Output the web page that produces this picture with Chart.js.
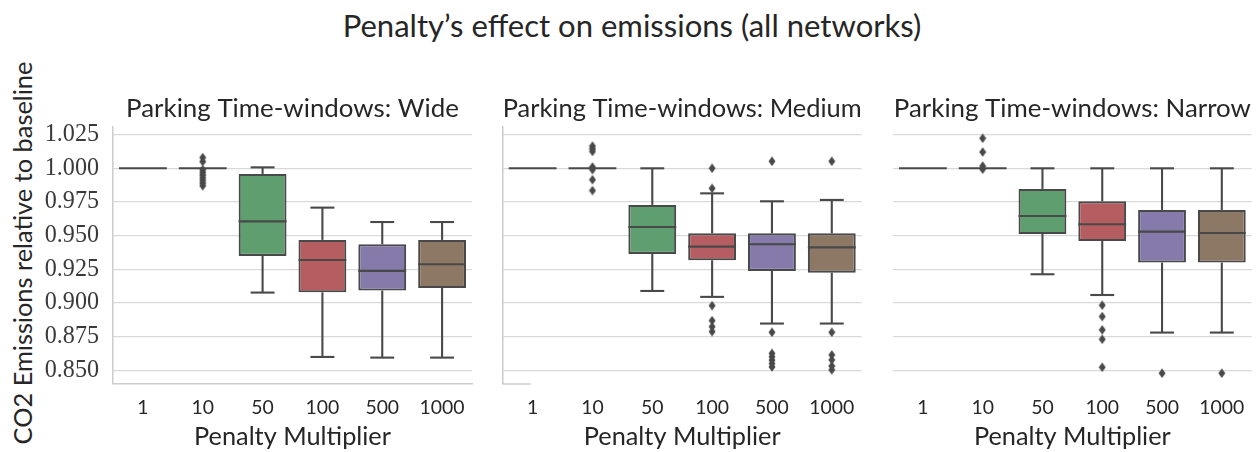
<!DOCTYPE html>
<html><head><meta charset="utf-8">
<script src="https://cdn.jsdelivr.net/npm/chart.js@4.4.0/dist/chart.umd.min.js"></script>
<style>
html,body{margin:0;padding:0;background:#fff;width:1258px;height:452px;overflow:hidden;}
#wrap{position:relative;width:1258px;height:452px;}
canvas{position:absolute;}
.lbl{position:absolute;white-space:nowrap;color:#262626;font-family:Lato,"Open Sans",sans-serif;line-height:1;}
#sup{left:632px;top:26px;transform:translate(-50%,-50%);}
#ylab{left:23px;top:253px;transform:translate(-50%,-50%) rotate(-90deg);}
</style></head>
<body><div id="wrap">
<div id="sup" class="lbl">Penalty’s effect on emissions (all networks)</div>
<div id="ylab" class="lbl">CO2 Emissions relative to baseline</div>
<canvas id="c1"></canvas><canvas id="c2"></canvas><canvas id="c3"></canvas>
</div>
<script>
// ---------------- data ----------------
const categories = ['1','10','50','100','500','1000'];
const yTickValues = [0.850,0.875,0.900,0.925,0.950,0.975,1.000,1.025];
const panelTitles = ['Parking Time-windows: Wide','Parking Time-windows: Medium','Parking Time-windows: Narrow'];

const wideLow    = [1.000, 1.000, 0.9077, 0.8599, 0.8594, 0.8594];
const wideQ1     = [1.000, 1.000, 0.9349, 0.9079, 0.9092, 0.9111];
const wideMedian = [1.000, 1.000, 0.9606, 0.9319, 0.9238, 0.9287];
const wideQ3     = [1.000, 1.000, 0.9958, 0.9468, 0.9436, 0.9468];
const wideHigh   = [1.000, 1.000, 1.0007, 0.9708, 0.9601, 0.9601];
const wideOutliers = [[], [1.008,1.005,0.999,0.997,0.995,0.993,0.991,0.989,0.987], [], [], [], []];

const mediumLow    = [1.000, 1.000, 0.9089, 0.9045, 0.8847, 0.8847];
const mediumQ1     = [1.000, 1.000, 0.9364, 0.9317, 0.9238, 0.9225];
const mediumMedian = [1.000, 1.000, 0.9564, 0.9418, 0.9436, 0.9413];
const mediumQ3     = [1.000, 1.000, 0.9728, 0.9517, 0.9517, 0.9517];
const mediumHigh   = [1.000, 1.000, 1.000, 0.9814, 0.9755, 0.9765];
const mediumOutliers = [[], [1.0165,1.0145,1.0125,1.001,0.999,0.9915,0.9835], [], [1.000,0.9851,0.898,0.8869,0.8824,0.8787],
  [1.0052,0.8782,0.8625,0.860,0.8575,0.855,0.8525], [1.0052,0.8782,0.8614,0.8577,0.8532,0.8503]];

const narrowLow    = [1.000, 1.000, 0.9213, 0.9059, 0.8780, 0.8780];
const narrowQ1     = [1.000, 1.000, 0.9512, 0.9460, 0.9300, 0.9300];
const narrowMedian = [1.000, 1.000, 0.9646, 0.9584, 0.9530, 0.9520];
const narrowQ3     = [1.000, 1.000, 0.9847, 0.9755, 0.9691, 0.9691];
const narrowHigh   = [1.000, 1.000, 1.000, 1.000, 1.000, 1.000];
const narrowOutliers = [[], [1.0223,1.0121,1.0017,0.9993], [], [0.8983,0.8899,0.8800,0.8730,0.8522], [0.8478], [0.8478]];

// ---------------- style ----------------
const boxColors = ['#5975a4','#cc8963','#5f9e6e','#b55d60','#857aaa','#8d7866'];
const lineGray = '#494949';
const textColor = '#262626';
const gridColor = '#d9d9d9';
const spineColor = '#cccccc';
const SANS = 'Lato';
const SERIF = '"Liberation Serif"';
const Y_MIN = 0.8398, Y_MAX = 1.0309;
const LW = 2.1;

function fitSize(text, family, target){
  const c = document.createElement('canvas').getContext('2d');
  c.font = '100px ' + family;
  return 100 * target / c.measureText(text).width;
}

function diamond(){
  const c = document.createElement('canvas');
  c.width = 8; c.height = 10;
  const g = c.getContext('2d');
  g.fillStyle = lineGray;
  g.beginPath(); g.moveTo(4,0.3); g.lineTo(7.5,5); g.lineTo(4,9.7); g.lineTo(0.5,5); g.closePath(); g.fill();
  return c;
}

const boxPlugin = {
  id:'boxWhiskers',
  afterDatasetDraw(chart, args){
    if (args.index !== 0) return;
    const st = chart.canvas.$stats;
    if (!st) return;
    const ys = chart.scales.y, ctx = chart.ctx;
    const meta = chart.getDatasetMeta(0);
    ctx.save();
    ctx.strokeStyle = lineGray; ctx.lineWidth = LW; ctx.lineCap = 'butt';
    const line = (x1,y1,x2,y2)=>{ctx.beginPath();ctx.moveTo(x1,y1);ctx.lineTo(x2,y2);ctx.stroke();};
    meta.data.forEach((bar,i)=>{
      const x = bar.x, w = bar.width;
      const yLo = ys.getPixelForValue(st.low[i]), yQ1 = ys.getPixelForValue(st.q1[i]);
      const yMed = ys.getPixelForValue(st.med[i]), yQ3 = ys.getPixelForValue(st.q3[i]);
      const yHi = ys.getPixelForValue(st.high[i]);
      if (yHi < yQ3 - 0.5){ line(x,yQ3,x,yHi); line(x-w/4,yHi,x+w/4,yHi); }
      if (yLo > yQ1 + 0.5){ line(x,yQ1,x,yLo); line(x-w/4,yLo,x+w/4,yLo); }
      line(x-w/2,yMed,x+w/2,yMed);
    });
    if (chart.canvas.$shortSpine){
      const a = chart.chartArea;
      ctx.strokeStyle = spineColor; ctx.lineWidth = 1.5;
      line(a.left, a.bottom, a.left + 28, a.bottom);
    }
    ctx.restore();
  }
};

function build(){
  const supEl = document.getElementById('sup');
  supEl.style.fontSize = fitSize(supEl.textContent, SANS, 579) + 'px';
  const yl = document.getElementById('ylab');
  yl.style.fontSize = fitSize(yl.textContent, SANS, 383) + 'px';

  const titleSize = fitSize(panelTitles[0], SANS, 333);
  const xTitleSize = fitSize('Penalty Multiplier', SANS, 197);
  const xTickSize = fitSize('1000', SANS, 45);
  const yTickSize = fitSize('1.025', SERIF, 54.3);
  const marker = diamond();

  const panels = [
    {id:'c1', left:0,   width:480, yWidth:113,  padR:8,   yTicks:true,  yBorder:true,  xBorder:true,  short:false,
     st:{low:wideLow,q1:wideQ1,med:wideMedian,q3:wideQ3,high:wideHigh}, out:wideOutliers},
    {id:'c2', left:480, width:390, yWidth:22.7, padR:8.3, yTicks:false, yBorder:true,  xBorder:false, short:true,
     st:{low:mediumLow,q1:mediumQ1,med:mediumMedian,q3:mediumQ3,high:mediumHigh}, out:mediumOutliers},
    {id:'c3', left:870, width:388, yWidth:23,   padR:6.3, yTicks:false, yBorder:false, xBorder:false, short:false,
     st:{low:narrowLow,q1:narrowQ1,med:narrowMedian,q3:narrowQ3,high:narrowHigh}, out:narrowOutliers}
  ];
  const TOP = 80, H = 372;
  const topAxisH = 46.7, bottomAxisH = 68;

  panels.forEach((p, k)=>{
    const cv = document.getElementById(p.id);
    cv.width = p.width; cv.height = H;
    cv.style.left = p.left + 'px'; cv.style.top = TOP + 'px';
    cv.style.width = p.width + 'px'; cv.style.height = H + 'px';
    cv.$stats = p.st;
    cv.$shortSpine = p.short;

    const boxData = categories.map((c,i)=>[p.st.q1[i], p.st.q3[i]]);
    const outData = [];
    p.out.forEach((arr,i)=>arr.forEach(v=>outData.push({x:categories[i], y:v})));

    const titleLH = titleSize*1.2, xtLH = xTitleSize*1.2, tickLH = xTickSize*1.2;
    new Chart(cv, {
      type:'bar',
      data:{labels:categories, datasets:[
        {type:'bar', data:boxData, backgroundColor:boxColors, borderColor:lineGray, borderWidth:LW,
         borderSkipped:false, barPercentage:0.8, categoryPercentage:1, order:2},
        {type:'scatter', data:outData, xAxisID:'x', yAxisID:'y', pointStyle:marker, pointRadius:4,
         backgroundColor:lineGray, borderColor:lineGray, order:1}
      ]},
      options:{
        responsive:false, animation:false, events:[], devicePixelRatio:1,
        layout:{padding:{left:0, right:p.padR, top:0, bottom:0}},
        plugins:{legend:{display:false}, tooltip:{enabled:false}, title:{display:false}},
        scales:{
          x:{type:'category', position:'bottom', offset:true,
             grid:{display:false, drawTicks:false},
             border:{display:p.xBorder, color:spineColor, width:1.5},
             ticks:{font:{family:SANS, size:xTickSize}, color:textColor, padding:24 - tickLH/2, maxRotation:0, autoSkip:false},
             title:{display:true, text:'Penalty Multiplier', color:textColor, font:{family:SANS, size:xTitleSize},
                    padding:{top:0, bottom:Math.max(0, 13.5 - xtLH/2)}},
             afterFit(s){ s.height = bottomAxisH; }},
          xt:{type:'category', position:'top', offset:true,
             grid:{display:false, drawTicks:false}, border:{display:false}, ticks:{display:false},
             title:{display:true, text:panelTitles[k], color:textColor, font:{family:SANS, size:titleSize},
                    padding:{top:29 - titleLH/2, bottom:0}},
             afterFit(s){ s.height = topAxisH; }},
          y:{type:'linear', position:'left', min:Y_MIN, max:Y_MAX,
             afterBuildTicks(s){ s.ticks = yTickValues.map(v=>({value:v})); },
             grid:{color:gridColor, lineWidth:1.3, drawTicks:false},
             border:{display:p.yBorder, color:spineColor, width:1.5},
             ticks:{display:p.yTicks, font:{family:SERIF, size:yTickSize}, color:'#3a3a3a', padding:14,
                    callback:(v)=>Number(v).toFixed(3)},
             afterFit(s){ s.width = p.yWidth; }}
        }
      },
      plugins:[boxPlugin]
    });
  });
}

const loads = [document.fonts.load('20px Lato'), document.fonts.load('20px "Liberation Serif"')];
Promise.all(loads).then(build, build);
</script>
</body></html>
